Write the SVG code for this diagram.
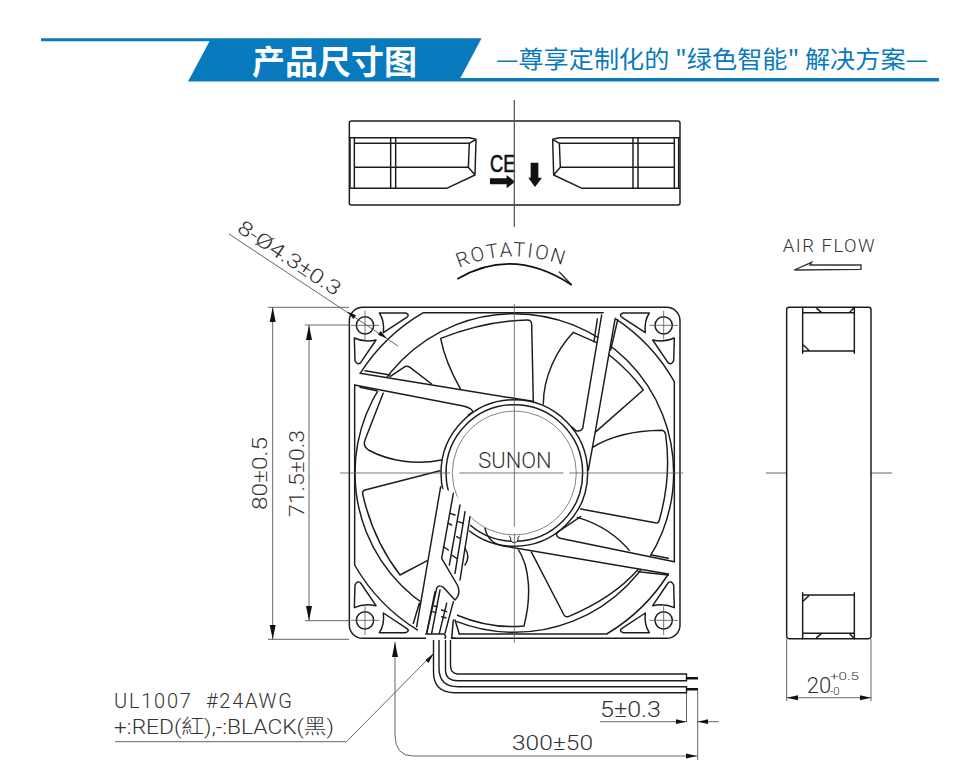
<svg xmlns="http://www.w3.org/2000/svg" width="980" height="778" viewBox="0 0 980 778">
<style>
.k{fill:none;stroke:#1c1c1c;stroke-width:4.4;stroke-linejoin:round;stroke-linecap:round}
.kw{fill:#fff;stroke:#1c1c1c;stroke-width:4.4;stroke-linejoin:round}
.thin{fill:none;stroke:#555;stroke-width:.9}
.ah{fill:#111;stroke:none}
.w{fill:#fff;stroke:none}
.d{font-family:"Roboto","Liberation Sans","Noto Sans CJK TC",sans-serif;font-weight:300;fill:#333}
</style>
<defs>
<g id="corner">
<circle class="k" cx="75" cy="76" r="26"/>
<path class="k" d="M118,39H197Q211,44 200,52L130,98Q134,62 118,39ZM43,114Q72,128 108,120L62,188Q52,197 45,182Z"/>
<path fill="none" stroke="#555" stroke-width="2.4" d="M32,76H118M75,32V118"/>
</g>
<g id="win">
<path class="k" d="M30,128V280M43,128V280M152,128V280M167,128V280M28,128H388L408,133L405,240L320,280H28M43,145H388L408,133M388,145L385,217L405,240M43,217H385"/>
</g>
<g id="sidewin">
<path class="k" d="M128,232V370M283,232V370M128,248H283M128,363H283M170,235L185,248M280,235L268,248M130,345L148,362"/>
</g>
</defs>

<g id="banner">
<polygon points="41,38.3 481.6,38.3 460.4,78 939,78 939,81.5 188,81.5 209.5,41.2 41,41.2" fill="#0a7abf"/>
<text x="334.5" y="74" text-anchor="middle" font-size="33" font-weight="700" fill="#fff" font-family="'Noto Sans CJK SC',sans-serif" textLength="165" lengthAdjust="spacingAndGlyphs">产品尺寸图</text>
<text x="496" y="68" font-size="24" fill="#0a7abf" font-family="'Noto Sans CJK SC',sans-serif" textLength="432" lengthAdjust="spacingAndGlyphs">—尊享定制化的 "绿色智能" 解决方案—</text>
</g>

<g id="top-view" transform="translate(340 95) scale(.33333)">
<rect class="kw" x="28" y="78" width="992" height="252" rx="6"/>
<use href="#win"/>
<use href="#win" transform="matrix(-1 0 0 1 1046 0)"/>
<path class="ah" d="M450,250H500V240L525,260L500,280V268H450ZM572,203H595V248H606L585,276L565,248H572Z"/>
<text x="450" y="232" font-size="72" font-family="'Liberation Sans',sans-serif" fill="#111" stroke="#111" stroke-width="2" textLength="76" lengthAdjust="spacingAndGlyphs">CE</text>
<path class="thin" style="stroke-width:3" d="M523,15V395"/>
</g>

<g id="fan-front" transform="translate(340 300) scale(.33333)">
<rect class="kw" x="28" y="22" width="992" height="993" rx="40"/>
<path class="k" d="M250,38H790M825,55A553,553 0 0 1 1003,245V785M985,822A553,553 0 0 1 800,1002H358M232,990A553,553 0 0 1 44,795V255M62,218A553,553 0 0 1 250,38"/>
<use href="#corner"/>
<use href="#corner" transform="matrix(-1 0 0 1 1046 0)"/>
<use href="#corner" transform="matrix(1 0 0 -1 0 1037)"/>
<use href="#corner" transform="matrix(-1 0 0 -1 1046 1037)"/>
<circle class="k" cx="523" cy="519" r="478"/>
<g id="blades">
<path class="k" d="M362,268C335,220 312,170 302,115C380,85 470,62 562,60Q574,60 575,72L580,305"/>
<path class="k" d="M610,312C610,230 650,150 700,97L770,128"/>
<path class="k" d="M808,165Q870,215 910,270L768,395"/>
<path class="k" d="M758,442C810,410 880,392 965,391Q975,392 977,405Q995,530 958,660Q955,672 945,668L722,627"/>
<path class="k" d="M712,652C790,675 840,715 875,760"/>
<path class="k" d="M572,752L672,945Q676,952 685,950C770,915 840,870 895,808"/>
<path class="k" d="M533,745C570,800 575,890 552,978C480,985 410,970 350,945"/>
<path class="k" d="M300,512L75,570Q66,573 68,582C90,680 130,760 180,825L262,782"/>
<path class="k" d="M130,278L75,420Q68,438 85,450C150,485 230,495 305,480"/>
<path class="k" d="M150,230L195,200Q202,196 210,202L275,252"/>
</g>
<g id="struts">
<polygon class="w" points="44,255 62,218 580,305 385,345"/>
<polygon class="w" points="788,40 825,55 750,480 725,390"/>
<polygon class="w" points="1003,785 985,822 470,738 650,700"/>
<polygon class="w" points="302,560 385,640 350,905 340,1000 232,985"/>
</g>
<circle class="kw" cx="523" cy="519" r="220"/>
<circle class="k" cx="523" cy="519" r="205"/>
<circle cx="523" cy="519" r="186" fill="none" stroke="#666" stroke-width="2.4"/>
<path d="M507,707Q514,712 512,720Q514,728 523,728Q532,728 534,720Q532,712 539,707" fill="#fff" stroke="#1c1c1c" stroke-width="3"/>
<polygon class="w" points="300,565 340,575 395,650 360,850 345,1003 230,985"/>
<path class="k" d="M44,255L370,318Q398,325 398,336L385,345M60,220L578,304"/>
<path class="k" d="M75,212L150,225M60,262L110,272"/>
<path class="k" d="M785,45L728,385Q722,395 708,392L695,380M825,58L765,400L745,510"/>
<path class="k" d="M772,57L762,125M833,60L812,150"/>
<path class="k" d="M1003,785L660,715Q642,706 655,695L722,650M985,822L490,738Q445,730 435,685"/>
<path class="k" d="M935,765L985,775M895,815L985,825"/>
<g id="wire-channel">
<path class="k" d="M302,560L230,980M238,910L220,970"/>
<path class="k" d="M340,580L305,775L352,855Q364,880 345,900L310,862Q295,852 290,865L260,1000"/>
<path class="k" d="M360,615L328,795M375,635L345,820M390,650L360,840"/>
<path class="k" d="M330,640L345,645M325,670L335,675M355,665L370,670M350,710L360,715M310,740L325,750M335,765L350,775"/>
<path class="k" d="M375,745Q392,770 375,795"/>
<path class="k" d="M285,875L260,1000M300,870L275,1000M320,910L298,1000M340,905L315,1000M282,918L292,920M278,935L288,938M305,930L320,935M305,950L318,953"/>
<path class="k" d="M340,960L335,1015M345,960L358,1002"/>
</g>
<polygon class="w" points="258,1004 332,1004 332,1018 258,1018"/>
<path class="k" d="M257,1002H312Q320,1008 315,1015"/>
<path class="k" d="M335,1015H345"/>
<polygon class="w" points="320,1012 332,1012 332,1020 320,1020"/>
<path class="thin" style="stroke-width:2.4" d="M523,12V680M523,700V1028M0,519H330M358,519H670M688,519H1030"/>
<text x="525" y="503" text-anchor="middle" font-size="66" class="d" textLength="220" lengthAdjust="spacingAndGlyphs">SUNON</text>
</g>

<g id="wires">
<path fill="none" stroke="#1c1c1c" stroke-width="1.4" d="M433.5,640V672Q433.5,692.7 455,692.7H686.5V686.7H458Q439,686.7 439,668V640M445.5,640V670Q445.5,680.7 458,680.7H686.5V674H458Q450.5,674 450.5,665V640"/>
<path stroke="#111" stroke-width="2.4" d="M686.5,678.3H698M686.5,689.3H698"/>
</g>

<g id="dimensions" class="thin">
<path d="M229,234L398,346"/>
<path d="M514.3,100V227"/>
<path d="M268,307.3H349M268,639.3H349M272.7,307.3V639.3M305,325H350M305,620.7H350M309,325V620.7"/>
<path d="M395,642V735Q395,756 413,756H697M697.7,690V760M686.5,693V722M600,721.7H686.5M697.7,721.7H718.7"/>
<path d="M115,741.7H346.4L434,653"/>
<path d="M786.7,639V701M871,639V701M786.7,697.7H871"/>
<path d="M765.7,473H820M826,473H833M838,473H892"/>
</g>
<g id="arrowheads" class="ah">
<path d="M272.7,307.3L269.7,322H275.7ZM272.7,639.3L269.7,625H275.7ZM309,325L306,340H312ZM309,620.7L306,606H312Z"/>
<path d="M347,311.5L356,315.3L353.5,319ZM387,338.5L378,334.7L380.5,331Z"/>
<path d="M395,642L392,657H398ZM697,756L686,753.5V758.5ZM686.5,721.7L676,719.3V724.1ZM697.7,721.7L708,719.3V724.1ZM434,653L425.5,660L428.5,663Z"/>
<path d="M786.7,697.7L798,695.2V700.2ZM871,697.7L860,695.2V700.2Z"/>
</g>

<g id="side-view" transform="translate(760 230) scale(.33333)">
<rect class="kw" x="80" y="232" width="253" height="994" rx="7"/>
<use href="#sidewin"/>
<use href="#sidewin" transform="matrix(1 0 0 -1 0 1458)"/>
<path d="M103,120L155,97L150,105H303V118Z" fill="#fff" stroke="#333" stroke-width="4"/>
</g>

<g id="rotation">
<path d="M457.3,279Q513,246 571.7,285" fill="none" stroke="#111" stroke-width="1.7"/>
<path d="M559,271.7L571.7,285" fill="none" stroke="#111" stroke-width="1.2"/>
<path id="rotp" d="M459,268Q513,245 570,268" fill="none"/>
<text class="d" font-size="20" letter-spacing="1.8"><textPath href="#rotp">ROTATION</textPath></text>
</g>

<g id="labels" class="d">
<text transform="translate(236 231) rotate(33.4)" font-size="20" textLength="119" lengthAdjust="spacingAndGlyphs">8-Ø4.3±0.3</text>
<text transform="translate(267 510) rotate(-90)" font-size="21" textLength="73" lengthAdjust="spacingAndGlyphs">80±0.5</text>
<text transform="translate(304 517) rotate(-90)" font-size="21" textLength="87" lengthAdjust="spacingAndGlyphs">71.5±0.3</text>
<text x="782.7" y="251.7" font-size="18.5" textLength="92" lengthAdjust="spacing">AIR FLOW</text>
<text x="806.7" y="692.7" font-size="22">20</text>
<text x="830" y="680" font-size="11.5" textLength="29" lengthAdjust="spacingAndGlyphs">+0.5</text>
<text x="830" y="695" font-size="11.5">-0</text>
<text x="114" y="708" font-size="20" textLength="178" lengthAdjust="spacing" xml:space="preserve">UL1007  #24AWG</text>
<text x="114" y="734" font-size="20" textLength="220" lengthAdjust="spacingAndGlyphs">+:RED(紅),-:BLACK(黑)</text>
<text x="600" y="717" font-size="22" textLength="61" lengthAdjust="spacingAndGlyphs">5±0.3</text>
<text x="512" y="750" font-size="21" textLength="81" lengthAdjust="spacingAndGlyphs">300±50</text>
</g>
</svg>
